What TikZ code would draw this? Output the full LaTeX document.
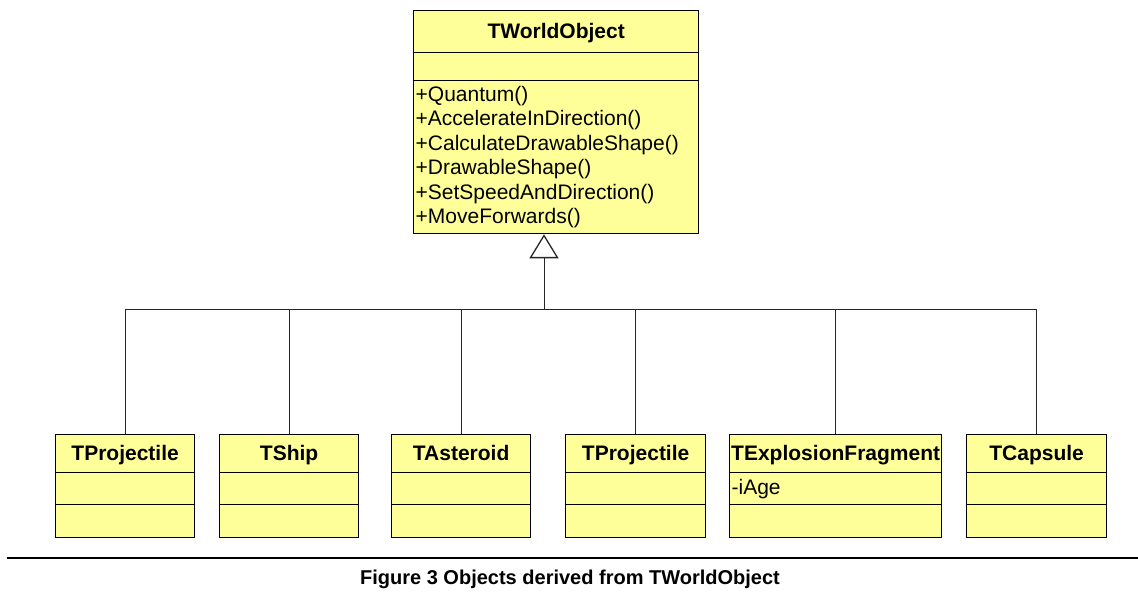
\documentclass[tikz,border=0pt]{standalone}
\usepackage{fontspec}
\setmainfont{Liberation Sans}
\usetikzlibrary{arrows.meta}
\definecolor{umlyellow}{RGB}{255,255,153}
\tikzset{
  comp/.style={draw=black, line width=1.3pt, fill=umlyellow, inner sep=0pt,
    anchor=north west, font=\fontsize{21}{24.5}\selectfont},
  ttl/.style={comp, font=\fontsize{21}{24.5}\selectfont\bfseries, align=center,
    text height=16pt, text depth=2pt},
  body/.style={comp, align=left, inner xsep=2pt},
  conn/.style={draw=black!85, line width=1pt},
  gen/.style={conn, -{Triangle[open, length=24pt, width=29pt, line width=1.3pt]}},
  caption/.style={font=\fontsize{20}{24}\selectfont\bfseries, anchor=base},
}
\begin{document}
\begin{tikzpicture}[x=1pt,y=-1pt]
\useasboundingbox (0,0) rectangle (1138,596);

% parent class
\node[ttl, minimum width=285pt, minimum height=42pt] (top) at (413,10) {TWorldObject};
\node[body, minimum width=285pt, minimum height=28pt] (topattr) at (413,52) {};
\node[body, text width=281pt, minimum height=153pt] (topops) at (413,80)
  {+Quantum()\\+AccelerateInDirection()\\+CalculateDrawableShape()\\+DrawableShape()\\+SetSpeedAndDirection()\\+MoveForwards()};

% child classes
\node[ttl, minimum width=139pt, minimum height=38pt] (c1) at (55,434) {TProjectile};
\node[body, minimum width=139pt, minimum height=32pt] (c1a) at (55,472) {};
\node[body, minimum width=139pt, minimum height=33pt] (c1o) at (55,504) {};

\node[ttl, minimum width=139pt, minimum height=38pt] (c2) at (219,434) {TShip};
\node[body, minimum width=139pt, minimum height=32pt] (c2a) at (219,472) {};
\node[body, minimum width=139pt, minimum height=33pt] (c2o) at (219,504) {};

\node[ttl, minimum width=139pt, minimum height=38pt] (c3) at (391,434) {TAsteroid};
\node[body, minimum width=139pt, minimum height=32pt] (c3a) at (391,472) {};
\node[body, minimum width=139pt, minimum height=33pt] (c3o) at (391,504) {};

\node[ttl, minimum width=140pt, minimum height=38pt] (c4) at (565,434) {TProjectile};
\node[body, minimum width=140pt, minimum height=32pt] (c4a) at (565,472) {};
\node[body, minimum width=140pt, minimum height=33pt] (c4o) at (565,504) {};

\node[ttl, minimum width=212pt, minimum height=38pt] (c5) at (729,434) {TExplosionFragment};
\node[body, text width=208pt, minimum height=32pt] (c5a) at (729,472) {-iAge};
\node[body, minimum width=212pt, minimum height=33pt] (c5o) at (729,504) {};

\node[ttl, minimum width=140pt, minimum height=38pt] (c6) at (966,434) {TCapsule};
\node[body, minimum width=140pt, minimum height=32pt] (c6a) at (966,472) {};
\node[body, minimum width=140pt, minimum height=33pt] (c6o) at (966,504) {};

% generalisation connectors
\coordinate (bus) at (544,309);
\coordinate (apex) at (topops.south -| bus);
\foreach \c in {c1,c2,c3,c4,c5,c6}
  \draw[conn] (\c.north) |- (bus);
\draw[gen] (bus) -- (apex);

% separator and caption
\coordinate (sepL) at (7,558);
\coordinate (sepR) at (1138,558);
\draw[line width=2pt] (sepL) -- (sepR);
\node[caption] (cap) at (570,584) {Figure 3 Objects derived from TWorldObject};
\end{tikzpicture}
\end{document}
